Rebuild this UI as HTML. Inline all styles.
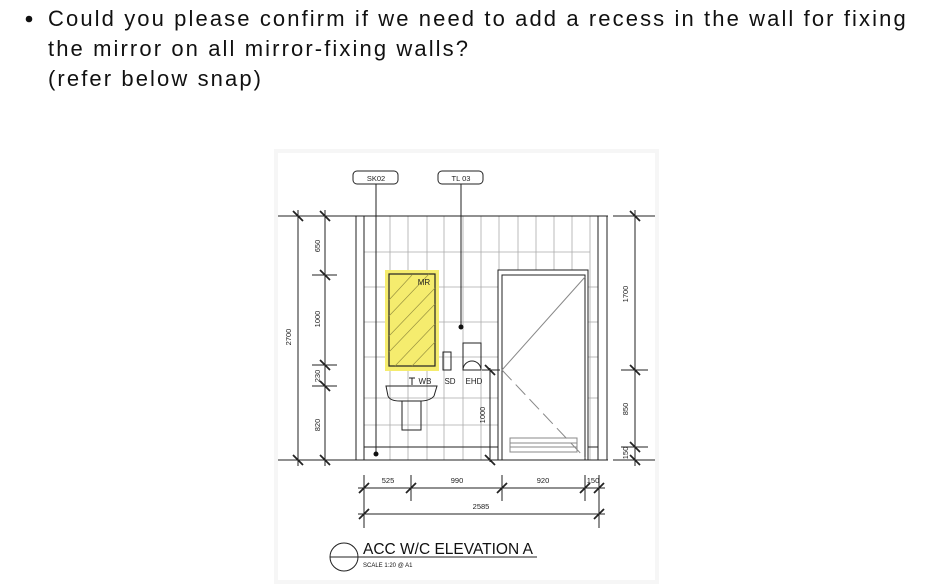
<!DOCTYPE html>
<html><head><meta charset="utf-8"><style>
html,body{margin:0;padding:0;background:#fff;width:940px;height:588px;overflow:hidden}
svg{display:block}
</style></head><body>
<svg width="940" height="588" viewBox="0 0 940 588" xmlns="http://www.w3.org/2000/svg">
<g font-family="Liberation Sans, sans-serif" font-size="22" fill="#111" letter-spacing="2.1">
<circle cx="29" cy="19" r="3.3" fill="#111"/>
<text x="48" y="26">Could you please confirm if we need to add a recess in the wall for fixing</text>
<text x="48" y="56">the mirror on all mirror-fixing walls?</text>
<text x="48" y="86">(refer below snap)</text>
</g>
<rect x="274" y="149" width="385" height="435" fill="#f6f6f6"/>
<rect x="278" y="153" width="377" height="427" fill="#fff"/>
<g stroke="#222" stroke-width="1" fill="none">
<g stroke="#aaa" stroke-width="0.8">
<line x1="390" y1="216" x2="390" y2="460"/><line x1="408" y1="216" x2="408" y2="460"/>
<line x1="427" y1="216" x2="427" y2="460"/><line x1="444" y1="216" x2="444" y2="460"/>
<line x1="463" y1="216" x2="463" y2="460"/><line x1="481" y1="216" x2="481" y2="460"/>
<line x1="499" y1="216" x2="499" y2="270"/><line x1="518" y1="216" x2="518" y2="270"/>
<line x1="536" y1="216" x2="536" y2="270"/><line x1="554" y1="216" x2="554" y2="270"/>
<line x1="572" y1="216" x2="572" y2="270"/>
<line x1="364" y1="252" x2="590" y2="252"/><line x1="364" y1="287" x2="498" y2="287"/>
<line x1="364" y1="322" x2="498" y2="322"/><line x1="364" y1="357" x2="498" y2="357"/>
<line x1="364" y1="398" x2="498" y2="398"/><line x1="364" y1="425" x2="498" y2="425"/>
<line x1="588" y1="287" x2="598" y2="287"/><line x1="588" y1="322" x2="598" y2="322"/><line x1="588" y1="357" x2="598" y2="357"/><line x1="588" y1="398" x2="598" y2="398"/>
<line x1="590" y1="216" x2="590" y2="460"/>
</g>
<line x1="364" y1="447" x2="498" y2="447"/>
<line x1="588" y1="447" x2="598" y2="447"/>
<line x1="278" y1="216" x2="608" y2="216"/><line x1="613" y1="216" x2="655" y2="216"/>
<line x1="278" y1="460" x2="608" y2="460"/><line x1="613" y1="460" x2="655" y2="460"/>
<line x1="356" y1="216" x2="356" y2="460"/><line x1="364" y1="216" x2="364" y2="460"/>
<line x1="598" y1="216" x2="598" y2="460"/><line x1="607" y1="216" x2="607" y2="460"/>
<line x1="298" y1="210" x2="298" y2="466"/>
<line x1="325" y1="210" x2="325" y2="466"/>
<line x1="312" y1="275" x2="337" y2="275"/><line x1="312" y1="365" x2="337" y2="365"/><line x1="312" y1="386" x2="337" y2="386"/>
<g stroke-width="1.8">
<line x1="293" y1="211" x2="303" y2="221"/><line x1="320" y1="211" x2="330" y2="221"/>
<line x1="320" y1="270" x2="330" y2="280"/><line x1="320" y1="360" x2="330" y2="370"/>
<line x1="320" y1="381" x2="330" y2="391"/>
<line x1="293" y1="455" x2="303" y2="465"/><line x1="320" y1="455" x2="330" y2="465"/>
</g>
<line x1="635" y1="210" x2="635" y2="466"/>
<line x1="621" y1="370" x2="648" y2="370"/><line x1="621" y1="447" x2="648" y2="447"/>
<g stroke-width="1.8">
<line x1="630" y1="211" x2="640" y2="221"/><line x1="630" y1="365" x2="640" y2="375"/>
<line x1="630" y1="442" x2="640" y2="452"/><line x1="630" y1="455" x2="640" y2="465"/>
</g>
<line x1="364" y1="475" x2="364" y2="528"/><line x1="411" y1="475" x2="411" y2="501"/>
<line x1="502" y1="475" x2="502" y2="501"/><line x1="585" y1="475" x2="585" y2="501"/>
<line x1="599" y1="475" x2="599" y2="528"/>
<line x1="358" y1="488" x2="605" y2="488"/>
<line x1="358" y1="514" x2="605" y2="514"/>
<g stroke-width="1.8">
<line x1="359" y1="493" x2="369" y2="483"/><line x1="406" y1="493" x2="416" y2="483"/>
<line x1="497" y1="493" x2="507" y2="483"/><line x1="580" y1="493" x2="590" y2="483"/>
<line x1="594" y1="493" x2="604" y2="483"/>
<line x1="359" y1="519" x2="369" y2="509"/><line x1="594" y1="519" x2="604" y2="509"/>
</g>
<line x1="490" y1="368" x2="490" y2="462"/>
<line x1="482" y1="370" x2="500" y2="370"/>
<g stroke-width="1.8"><line x1="485" y1="365" x2="495" y2="375"/><line x1="485" y1="455" x2="495" y2="465"/></g>
<rect x="353" y="171" width="45" height="13" rx="4"/>
<rect x="438" y="171" width="45" height="13" rx="4"/>
<line x1="376" y1="184" x2="376" y2="454"/>
<line x1="461" y1="184" x2="461" y2="327"/>
<rect x="385" y="270" width="54" height="101" fill="#f5ec6e" stroke="none"/>
<rect x="389" y="274" width="46" height="92" stroke-width="1.2"/>
<g stroke="#9a9340" stroke-width="0.7">
<line x1="389" y1="300" x2="412" y2="275"/><line x1="389" y1="316" x2="429" y2="274"/>
<line x1="389" y1="336" x2="435" y2="288"/><line x1="389" y1="352" x2="435" y2="304"/>
<line x1="395" y1="366" x2="435" y2="324"/><line x1="412" y1="366" x2="435" y2="342"/>
</g>
<rect x="443" y="352" width="8" height="18"/>
<rect x="463" y="343" width="18" height="27"/>
<path d="M463 370 A9 9 0 0 1 481 370"/>
<line x1="412" y1="378" x2="412" y2="385"/><line x1="409" y1="378" x2="415" y2="378"/>
<path d="M386 386 L437 386 L434 396 Q430 401 420 401 L400 401 Q390 401 388 396 Z"/>
<rect x="402" y="401" width="19" height="29"/>
<rect x="498" y="270" width="90" height="190"/>
<rect x="502" y="275" width="83" height="185"/>
<line x1="585" y1="277" x2="502" y2="370" stroke="#888"/>
<line x1="502" y1="370" x2="585" y2="458" stroke="#888" stroke-dasharray="14 6"/>
<rect x="510" y="438" width="67" height="14" stroke="#888"/>
<line x1="510" y1="443" x2="577" y2="443" stroke="#888"/><line x1="510" y1="447" x2="577" y2="447" stroke="#888"/>
<circle cx="344" cy="557" r="14"/>
<line x1="330" y1="557" x2="537" y2="557"/>
</g>
<circle cx="461" cy="327" r="2.5" fill="#111"/>
<circle cx="376" cy="454" r="2.5" fill="#111"/>
<g font-family="Liberation Sans, sans-serif" font-size="7.5" fill="#222" text-anchor="middle">
<text x="376" y="181">SK02</text><text x="461" y="181">TL 03</text>
<text x="424" y="285" font-size="8">MR</text>
<text x="425" y="384" font-size="8">WB</text><text x="450" y="384" font-size="8">SD</text><text x="474" y="384" font-size="8">EHD</text>
<text x="388" y="483">525</text><text x="457" y="483">990</text><text x="543" y="483">920</text><text x="593" y="483">150</text>
<text x="481" y="509">2585</text>
<text transform="translate(291,337) rotate(-90)">2700</text>
<text transform="translate(320,246) rotate(-90)">650</text>
<text transform="translate(320,319) rotate(-90)">1000</text>
<text transform="translate(320,376) rotate(-90)">230</text>
<text transform="translate(320,425) rotate(-90)">820</text>
<text transform="translate(485,415) rotate(-90)">1000</text>
<text transform="translate(628,294) rotate(-90)">1700</text>
<text transform="translate(628,409) rotate(-90)">850</text>
<text transform="translate(628,453) rotate(-90)">150</text>
</g>
<text x="363" y="554" font-family="Liberation Sans, sans-serif" font-size="15.5" fill="#111">ACC W/C ELEVATION A</text>
<text x="363" y="567" font-family="Liberation Sans, sans-serif" font-size="6" fill="#111">SCALE 1:20 @ A1</text>
</svg>
</body></html>
